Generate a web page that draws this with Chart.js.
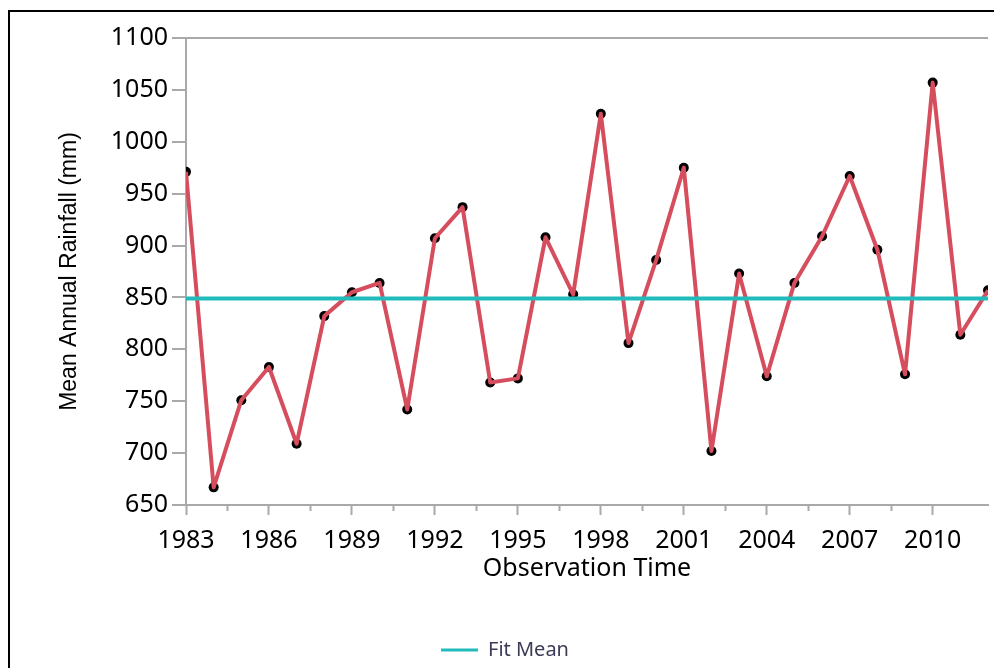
<!DOCTYPE html>
<html>
<head>
<meta charset="utf-8">
<title>Mean Annual Rainfall</title>
<script src="https://cdn.jsdelivr.net/npm/chart.js@4.4.1/dist/chart.umd.min.js"></script>
<style>
    html, body {
        margin: 0;
        padding: 0;
        background: #ffffff;
        overflow: hidden;
    }
    #wrap {
        position: relative;
        width: 994px;
        height: 668px;
    }
    #frame {
        position: absolute;
        left: 8px;
        top: 10px;
        width: 1000px;
        height: 700px;
        border-top: 2px solid #000000;
        border-left: 2px solid #000000;
        pointer-events: none;
    }
    #rainfall-chart {
        position: absolute;
        left: 0;
        top: 0;
    }
</style>
</head>
<body>
<div id="wrap">
    <div id="frame"></div>
    <canvas id="rainfall-chart" width="994" height="668"></canvas>
</div>
<script>
// Observation years (x axis)
const years = [1983, 1984, 1985, 1986, 1987, 1988, 1989, 1990, 1991, 1992,
               1993, 1994, 1995, 1996, 1997, 1998, 1999, 2000, 2001, 2002,
               2003, 2004, 2005, 2006, 2007, 2008, 2009, 2010, 2011, 2012];

// Mean annual rainfall in mm
const rainfall = [971, 667, 751, 783, 709, 832, 855, 864, 742, 907,
                  937, 768, 772, 908, 853, 1027, 806, 886, 975, 702,
                  873, 774, 864, 909, 967, 896, 776, 1057, 814, 857];

// Fitted mean line
const fitMean = 849;

// Axis ranges / ticks
const xRange = [1983, 2012];
const xMajorStep = 3;
const xMinorStep = 1.5;
const yRange = [650, 1100];
const yStep = 50;

const axisGray = '#a9a9a9';
const lineRed = '#d64d5d';
const meanTeal = '#22bbbb';

function createRainfallChart() {
    const ctx = document.getElementById('rainfall-chart').getContext('2d');

    const points = years.map((yr, i) => ({ x: yr, y: rainfall[i] }));
    const meanPoints = xRange.map(yr => ({ x: yr, y: fitMean }));

    const isMajor = v => ((v - xRange[0]) % xMajorStep) === 0;

    new Chart(ctx, {
        type: 'scatter',
        data: {
            datasets: [
                {
                    // black dots, drawn underneath the line
                    label: 'Points',
                    data: points,
                    showLine: false,
                    pointRadius: 5,
                    pointBackgroundColor: '#000000',
                    pointBorderWidth: 0,
                    clip: 0,
                    order: 3
                },
                {
                    label: 'Rainfall',
                    data: points,
                    showLine: true,
                    borderColor: lineRed,
                    borderWidth: 4,
                    borderJoinStyle: 'round',
                    pointRadius: 0,
                    tension: 0,
                    clip: 0,
                    order: 2
                },
                {
                    label: 'Fit Mean',
                    data: meanPoints,
                    showLine: true,
                    borderColor: meanTeal,
                    backgroundColor: meanTeal,
                    borderWidth: 4,
                    pointRadius: 0,
                    clip: 0,
                    order: 1
                }
            ]
        },
        options: {
            responsive: false,
            animation: false,
            layout: {
                padding: { left: 22, right: 6, top: 38, bottom: -2 }
            },
            scales: {
                x: {
                    type: 'linear',
                    min: xRange[0],
                    max: xRange[1],
                    afterBuildTicks(scale) {
                        scale.ticks = scale.ticks.filter(t => ((t.value - xRange[0]) / xMinorStep) % 1 === 0);
                    },
                    afterFit(scale) {
                        scale.height = 125;
                    },
                    border: {
                        display: true,
                        color: axisGray,
                        width: 2
                    },
                    grid: {
                        drawOnChartArea: false,
                        drawTicks: true,
                        tickLength: 10,
                        tickWidth: 2,
                        tickColor: axisGray,
                        tickBorderDash: c => (c.tick && isMajor(c.tick.value)) ? [] : [5, 40]
                    },
                    ticks: {
                        stepSize: xMinorStep,
                        autoSkip: false,
                        maxRotation: 0,
                        padding: 11,
                        color: '#000000',
                        font: { family: 'Noto Sans', size: 25 },
                        callback(value) {
                            return isMajor(value) ? String(value) : '';
                        }
                    },
                    title: {
                        display: true,
                        text: 'Observation Time',
                        color: '#000000',
                        font: { family: 'Noto Sans', size: 25 },
                        padding: { top: 0, bottom: 46 }
                    }
                },
                y: {
                    type: 'linear',
                    min: yRange[0],
                    max: yRange[1],
                    afterFit(scale) {
                        scale.width = 164;
                    },
                    border: {
                        display: true,
                        color: axisGray,
                        width: 2
                    },
                    grid: {
                        // only the top line of the frame is drawn
                        color: c => (c.tick && c.tick.value === yRange[1]) ? axisGray : 'rgba(0,0,0,0)',
                        lineWidth: 2,
                        tickLength: 14,
                        tickWidth: 2,
                        tickColor: axisGray
                    },
                    ticks: {
                        stepSize: yStep,
                        padding: 4,
                        color: '#000000',
                        font: { family: 'Noto Sans', size: 25 },
                        callback(value) {
                            return String(value);
                        }
                    },
                    title: {
                        display: true,
                        text: 'Mean Annual Rainfall (mm)',
                        color: '#000000',
                        font: { family: 'Liberation Sans', size: 23 },
                        padding: { top: 34, bottom: 0 }
                    }
                }
            },
            plugins: {
                legend: {
                    display: true,
                    position: 'bottom',
                    labels: {
                        boxWidth: 37,
                        boxHeight: 3,
                        padding: 10,
                        color: '#3b3b58',
                        font: { family: 'Noto Sans', size: 20 },
                        filter: item => item.text === 'Fit Mean',
                        generateLabels(chart) {
                            const items = Chart.defaults.plugins.legend.labels.generateLabels(chart);
                            return items.map(item => Object.assign(item, {
                                fillStyle: meanTeal,
                                strokeStyle: meanTeal,
                                lineWidth: 0
                            }));
                        }
                    }
                },
                tooltip: { enabled: false }
            }
        }
    });
}

document.addEventListener('DOMContentLoaded', function() {
    createRainfallChart();
});
</script>
</body>
</html>
